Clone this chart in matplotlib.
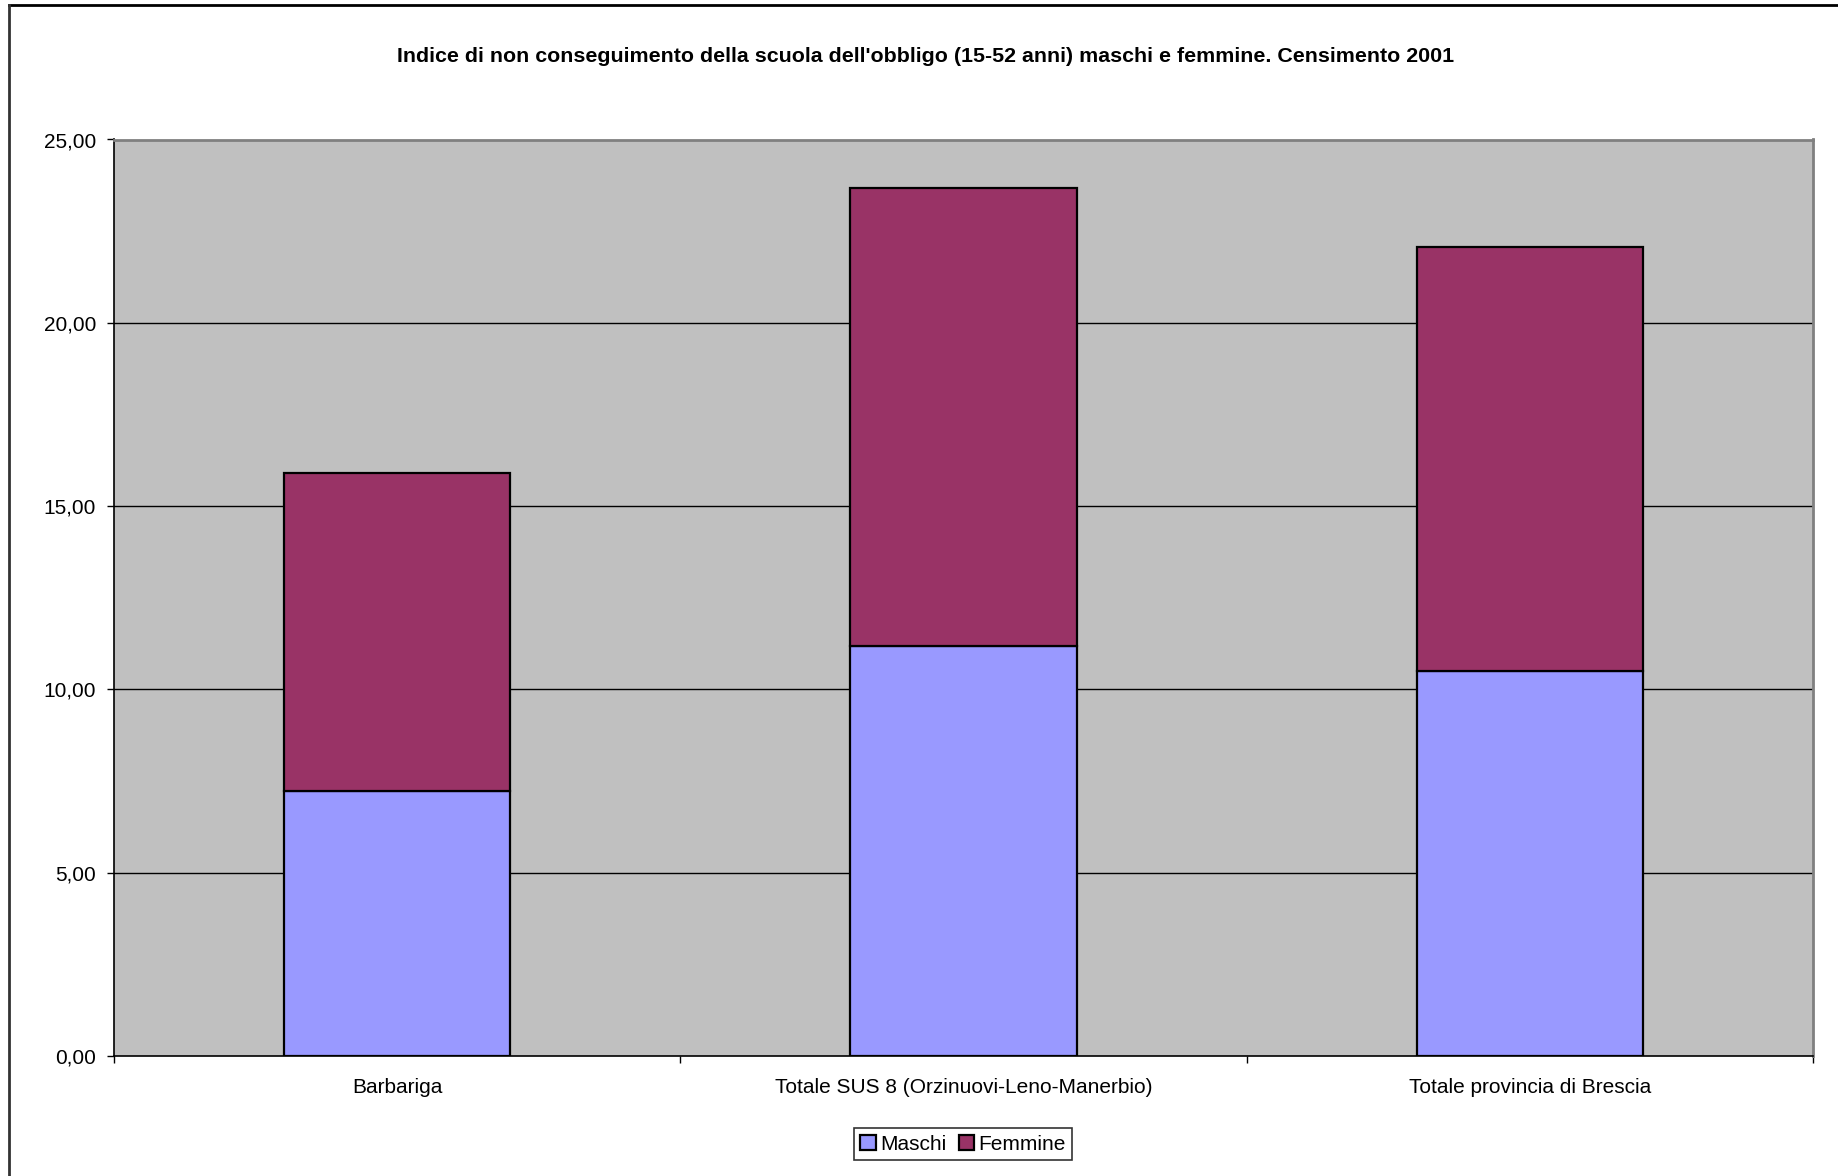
import matplotlib
matplotlib.use("Agg")
import matplotlib.pyplot as plt
from matplotlib.lines import Line2D
from matplotlib.ticker import FuncFormatter, FixedLocator
import numpy as np

categories = ["Barbariga", "Totale SUS 8 (Orzinuovi-Leno-Manerbio)", "Totale provincia di Brescia"]
maschi = [7.23, 11.18, 10.51]
femmine = [8.66, 12.49, 11.55]
series_names = ["Maschi", "Femmine"]
title = "Indice di non conseguimento della scuola dell'obbligo (15-52 anni) maschi e femmine. Censimento 2001"
yticks = [0, 5, 10, 15, 20, 25]

plt.rcParams['font.family'] = ['Liberation Sans', 'DejaVu Sans']

W, H = 1838, 1176
fig = plt.figure(figsize=(W / 100, H / 100), dpi=100)
fig.patch.set_facecolor("white")

left, right, top, bottom = 114, 1813, 139.5, 1056
ax = fig.add_axes([left / W, 1 - bottom / H, (right - left) / W, (bottom - top) / H])
ax.set_facecolor("#C0C0C0")

x = np.arange(len(categories))
bw = 0.4
b1 = ax.bar(x, maschi, width=bw, color="#9999FF", edgecolor="black", linewidth=1.6, zorder=3, label=series_names[0])
b2 = ax.bar(x, femmine, width=bw, bottom=maschi, color="#993366", edgecolor="black", linewidth=1.6, zorder=3, label=series_names[1])

ax.set_xlim(-0.5, len(categories) - 0.5)
ax.set_ylim(0, 25)
ax.set_yticks(yticks)
ax.yaxis.set_major_formatter(FuncFormatter(lambda v, p: f"{v:.2f}".replace(".", ",")))
ax.tick_params(axis="y", direction="out", length=5, width=1, labelsize=15, pad=8, colors="black")
for yv in yticks[1:-1]:
    ax.axhline(yv, color="black", linewidth=1.0, zorder=1)

ax.set_xticks(x)
ax.set_xticklabels(categories)
ax.tick_params(axis="x", which="major", length=0, labelsize=15, pad=16)
ax.xaxis.set_minor_locator(FixedLocator(np.arange(-0.5, len(categories), 1.0)))
ax.tick_params(axis="x", which="minor", direction="out", length=5, width=1, color="black")

for s in ["top", "right"]:
    ax.spines[s].set_color("#808080")
    ax.spines[s].set_linewidth(2)
for s in ["left", "bottom"]:
    ax.spines[s].set_color("black")
    ax.spines[s].set_linewidth(1.2)

fig.text(926 / W, 1 - 57 / H, title, ha="center", va="center", fontsize=15.4, fontweight="bold")

leg = fig.legend(handles=[b1, b2], labels=series_names, loc="center", bbox_to_anchor=(963 / W, 1 - 1144 / H),
                 ncol=2, fontsize=15, frameon=True, fancybox=False, shadow=False,
                 handlelength=0.75, handleheight=0.75, handletextpad=0.2, columnspacing=0.6,
                 borderpad=0.3, borderaxespad=0)
leg.get_frame().set_edgecolor("black")
leg.get_frame().set_linewidth(1.2)

# outer chart border (top and left visible)
fig.add_artist(Line2D([9 / W, 1], [1 - 5 / H, 1 - 5 / H], transform=fig.transFigure, color="black", linewidth=2))
fig.add_artist(Line2D([9 / W, 9 / W], [0, 1 - 5 / H], transform=fig.transFigure, color="#333333", linewidth=2))

fig.savefig("out.png", dpi=100)
